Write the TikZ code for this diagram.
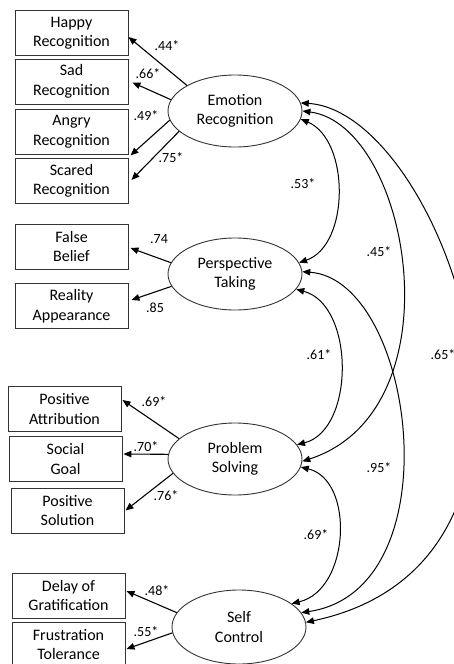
\documentclass[tikz,border=0pt]{standalone}
\usepackage{fontspec}
\setmainfont{Carlito}
\usetikzlibrary{arrows.meta,shapes.geometric}
\begin{document}
\begin{tikzpicture}[x=1pt,y=-1pt,
  obs/.style={draw=black!80,line width=0.9pt,minimum width=113pt,minimum height=45pt,
    inner sep=0pt,align=center,font=\fontsize{16}{19.5}\selectfont},
  lat/.style={draw=black!80,line width=0.9pt,ellipse,minimum width=134pt,minimum height=72pt,
    inner sep=0pt,align=center,font=\fontsize{16}{19.5}\selectfont},
  tip/.tip={Triangle[length=8pt,width=6.5pt]},
  load/.style={line width=1.1pt,-tip},
  cov/.style={line width=1pt,tip-tip},
  lbl/.style={font=\fontsize{14}{16}\selectfont,inner sep=0pt}
]
\useasboundingbox (0,0) rectangle (454,664);

% latent factors
\node[lat] (er) at (235,111) {Emotion\\Recognition};
\node[lat] (pt) at (235,274) {Perspective\\Taking};
\node[lat] (ps) at (235,459) {Problem\\Solving};
\node[lat,minimum height=74pt] (sc) at (239,627) {Self\\Control};

% indicators
\node[obs] (happy)  at (71.5,33)   {Happy\\Recognition};
\node[obs] (sad)    at (71.5,81.5) {Sad\\Recognition};
\node[obs] (angry)  at (71.5,131.5){Angry\\Recognition};
\node[obs] (scared) at (71.5,181)  {Scared\\Recognition};
\node[obs] (fb)     at (71.5,246.5){False\\Belief};
\node[obs] (ra)     at (71.5,306)  {Reality\\Appearance};
\node[obs] (pa)     at (64.5,409)  {Positive\\Attribution};
\node[obs] (sg)     at (65.5,459)  {Social\\Goal};
\node[obs] (psol)   at (67.5,510.5){Positive\\Solution};
\node[obs] (dg)     at (68.5,595.5){Delay of\\Gratification};
\node[obs] (ft)     at (68.5,644.5){Frustration\\Tolerance};

% factor loadings
\draw[load] (er.152) -- ([yshift=-4pt]happy.east);
\draw[load] (er.170) -- ([shift={(4pt,-1pt)}]sad.east);
\draw[load] (er.188) -- ([shift={(2pt,-1pt)}]angry.south east);
\draw[load] (er.200) -- ([shift={(3pt,1pt)}]scared.east);
\draw[load] (pt.170) -- ([shift={(2pt,-1.5pt)}]fb.east);
\draw[load] (pt.191) -- ([shift={(3pt,6pt)}]ra.east);
\draw[load] (ps.160) -- ([shift={(1pt,9pt)}]pa.east);
\draw[load] (ps.176) -- ([shift={(1pt,5pt)}]sg.east);
\draw[load] (ps.193) -- ([shift={(1pt,0pt)}]psol.east);
\draw[load] (sc.167) -- ([shift={(1pt,4.5pt)}]dg.east);
\draw[load] (sc.185) -- ([shift={(1pt,-4.5pt)}]ft.east);

\node[lbl] (l1)  at (167,46)  {.44*};
\node[lbl] (l2)  at (148,74)  {.66*};
\node[lbl] (l3)  at (146,116) {.49*};
\node[lbl] (l4)  at (171,158) {.75*};
\node[lbl] (l5)  at (159,239) {.74};
\node[lbl] (l6)  at (155,308) {.85};
\node[lbl] (l7)  at (154,402) {.69*};
\node[lbl] (l8)  at (146,447) {.70*};
\node[lbl] (l9)  at (166,496) {.76*};
\node[lbl] (l10) at (157,591) {.48*};
\node[lbl] (l11) at (146,632) {.55*};

% factor correlations
\draw[cov] (er.-7) .. controls (350,140) and (350,245) .. (pt.10);
\draw[cov] (er.0) .. controls (410,125) and (460,410) .. (ps.-2);
\draw[cov] (er.7) .. controls (445,112) and (600,560) .. (sc.4);
\draw[cov] (pt.-14) .. controls (355,305) and (355,430) .. (ps.13);
\draw[cov] (pt.2) .. controls (415,280) and (455,590) .. (sc.13);
\draw[cov] (ps.-7) .. controls (355,480) and (350,590) .. (sc.24);

\node[lbl] (c1) at (303,184) {.53*};
\node[lbl] (c2) at (379,252) {.45*};
\node[lbl] (c3) at (319,355) {.61*};
\node[lbl] (c4) at (443,355) {.65*};
\node[lbl] (c5) at (379,468) {.95*};
\node[lbl] (c6) at (316,535) {.69*};
\end{tikzpicture}
\end{document}
